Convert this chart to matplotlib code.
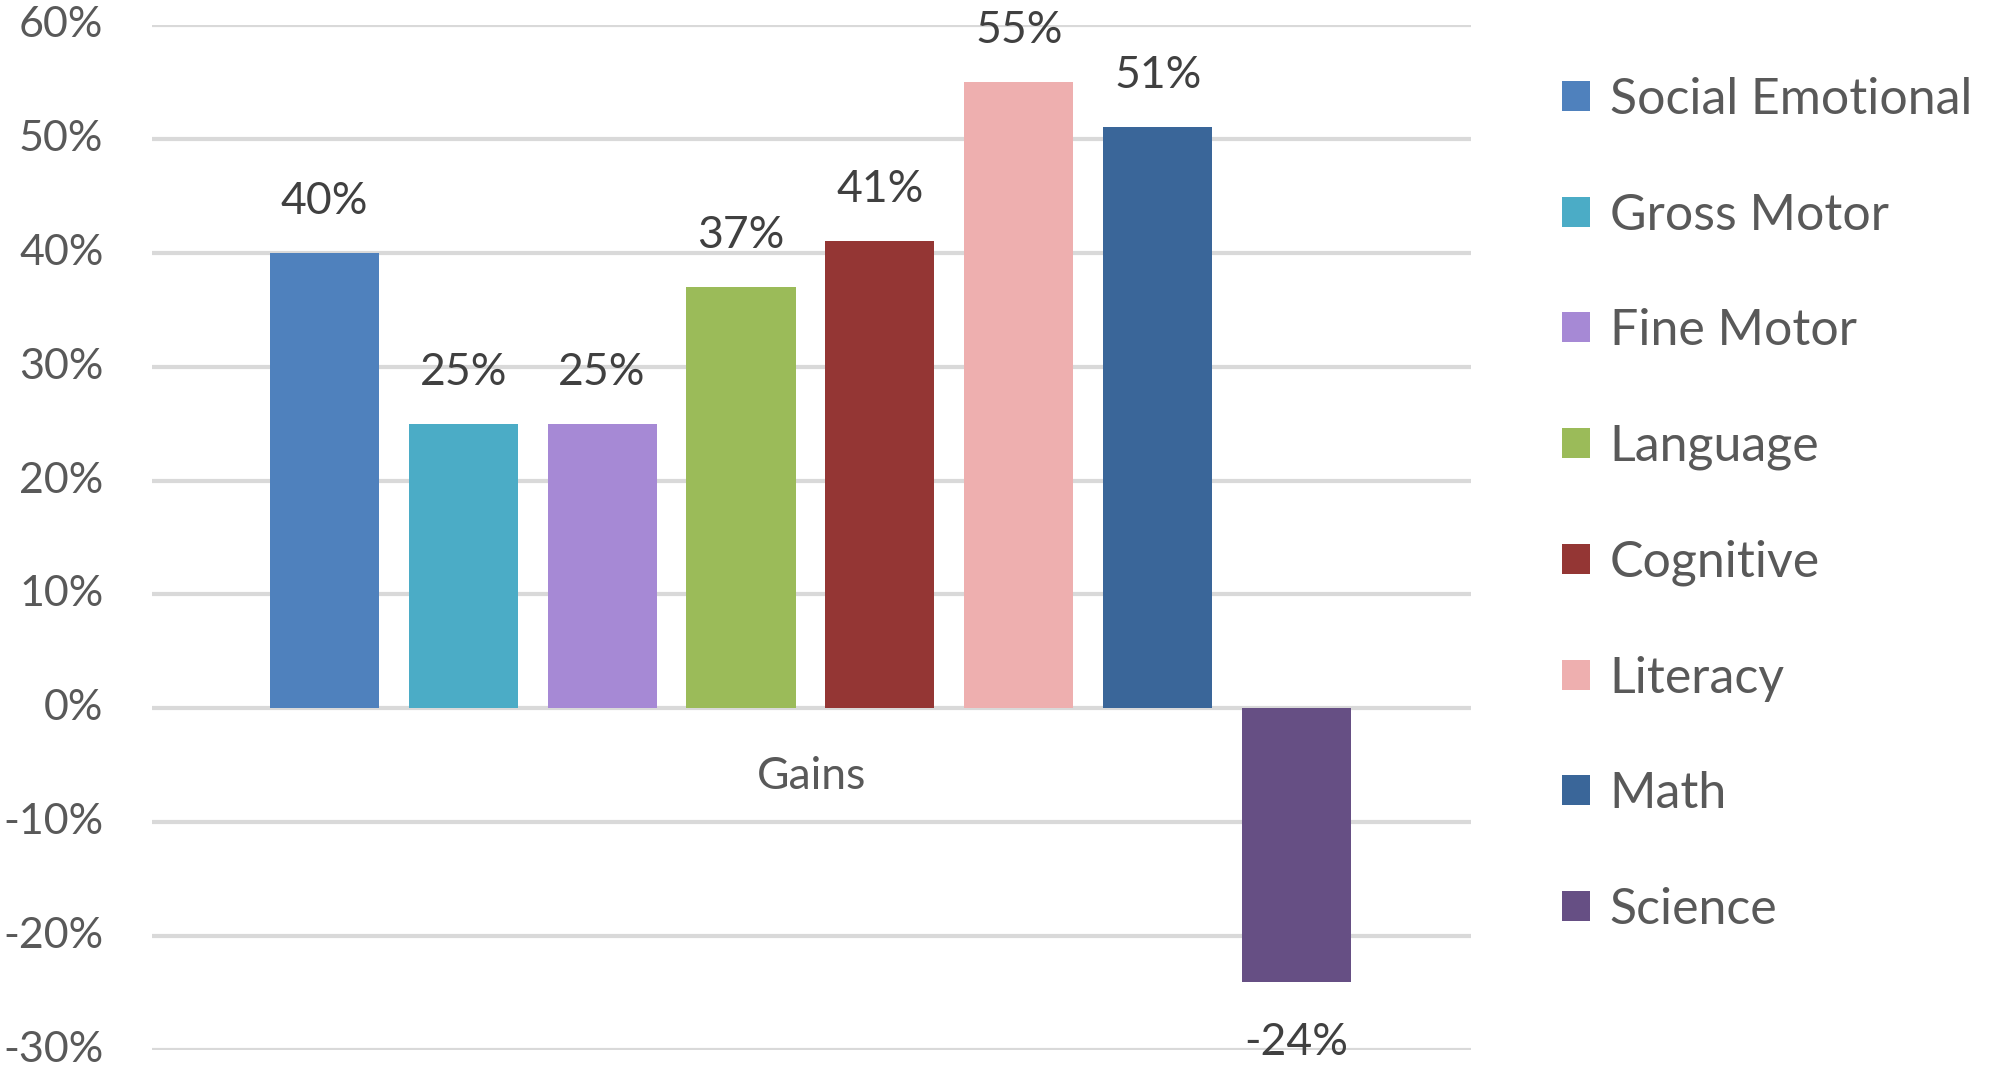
import matplotlib
matplotlib.use("Agg")
import matplotlib.pyplot as plt
import matplotlib.transforms as mtrans
from matplotlib.ticker import FuncFormatter
from matplotlib.patches import Patch

categories = ["Social Emotional", "Gross Motor", "Fine Motor", "Language",
              "Cognitive", "Literacy", "Math", "Science"]
values = [0.40, 0.25, 0.25, 0.37, 0.41, 0.55, 0.51, -0.24]
colors = ["#4F81BD", "#4BACC6", "#A689D5", "#9BBB59",
          "#943634", "#EEAFAF", "#3A6699", "#664F84"]
yticks = [-0.3, -0.2, -0.1, 0.0, 0.1, 0.2, 0.3, 0.4, 0.5, 0.6]
group_label = "Gains"

plt.rcParams['font.family'] = ['Lato', 'DejaVu Sans']

fig = plt.figure(figsize=(19.92, 10.71), dpi=100)
ax = fig.add_axes([152/1992, 1 - 1050/1071, (1471-152)/1992, (1050-25)/1071])

x = list(range(len(values)))
bars = ax.bar(x, values, width=0.785, color=colors, zorder=3)

ax.set_xlim(-1.24, 8.255)
ax.set_ylim(-0.3, 0.6)
ax.set_yticks(yticks)
ax.yaxis.set_major_formatter(FuncFormatter(lambda v, p: f"{round(v*100):d}%"))
ax.tick_params(axis='y', length=0, pad=35, labelsize=31, labelcolor="#595959")
for lbl in ax.get_yticklabels():
    lbl.set_verticalalignment("center")
ax.set_xticks([])
ax.grid(axis='y', color="#D9D9D9", linewidth=3, zorder=0)
for s in ax.spines.values():
    s.set_visible(False)

for xi, v in zip(x, values):
    if v >= 0:
        ax.annotate(f"{round(v*100):d}%", (xi, v), xytext=(0, 39), textcoords="offset pixels",
                    ha="center", va="baseline", fontsize=32, color="#404040", zorder=5)
    else:
        ax.annotate(f"{round(v*100):d}%", (xi, v), xytext=(0, -40), textcoords="offset pixels",
                    ha="center", va="top", fontsize=32, color="#404040", zorder=5)

blend = mtrans.blended_transform_factory(ax.transAxes, ax.transData)
ax.text(0.5, 0.0, group_label,
        transform=blend + mtrans.ScaledTranslation(0, -81/100, fig.dpi_scale_trans),
        ha="center", va="baseline", fontsize=32, color="#595959")

handles = [Patch(facecolor=c, edgecolor='none') for c in colors]
leg = fig.legend(handles, categories, loc="upper left", bbox_to_anchor=(1562/1992, 1 - 77/1071),
                 frameon=False, fontsize=36, labelcolor="#595959",
                 handlelength=0.55, handleheight=0.55, handletextpad=0.4,
                 labelspacing=1.39, borderaxespad=0, borderpad=0)

fig.savefig("out.png", dpi=100)
